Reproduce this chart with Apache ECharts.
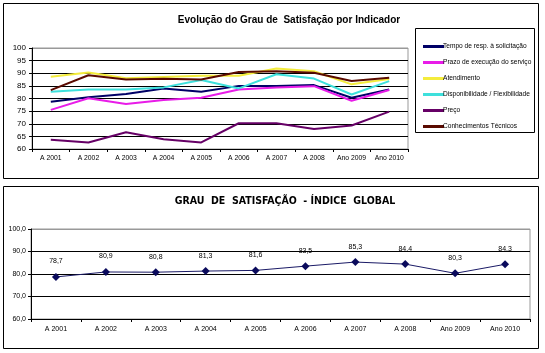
<!DOCTYPE html>
<html>
<head>
<meta charset="utf-8">
<script src="https://cdn.jsdelivr.net/npm/echarts@6/dist/echarts.min.js"></script>
<style>
  html, body { margin: 0; padding: 0; background: #fff; }
  #chart { width: 545px; height: 353px; }
</style>
</head>
<body>
<div id="chart"></div>
<script>
// categorias (anos)
const anos = ['A 2001', 'A 2002', 'A 2003', 'A 2004', 'A 2005', 'A 2006', 'A 2007', 'A 2008', 'Ano 2009', 'Ano 2010']

// indicadores - grafico de cima
const tempoResp = [78.7, 80.5, 81.8, 84.0, 82.7, 85.0, 85.0, 85.3, 80.3, 83.6]
const prazoExec = [75.5, 80.1, 77.8, 79.4, 80.3, 83.6, 84.4, 84.9, 79.1, 83.4]
const atendimento = [88.6, 90.3, 88.0, 88.5, 89.0, 89.0, 91.9, 90.8, 85.6, 87.7]
const disponib = [82.7, 83.6, 83.6, 84.4, 87.3, 84.0, 89.6, 87.9, 81.6, 86.9]
const preco = [63.7, 62.6, 66.6, 63.9, 62.6, 70.2, 70.2, 67.9, 69.3, 74.8]
const conhecimentos = [83.3, 89.2, 87.5, 87.8, 87.5, 90.5, 90.8, 90.2, 86.9, 88.2]

// indice global - grafico de baixo
const indiceGlobal = [78.7, 80.9, 80.8, 81.3, 81.6, 83.5, 85.3, 84.4, 80.3, 84.3]

const indicadores = [
  { name: 'Tempo de resp. à solicitação', data: tempoResp, color: '#000066' },
  { name: 'Prazo de execução do serviço', data: prazoExec, color: '#e81ce8' },
  { name: 'Atendimento', data: atendimento, color: '#f4ec3c' },
  { name: 'Disponibilidade / Flexibilidade', data: disponib, color: '#3ee0dc' },
  { name: 'Preço', data: preco, color: '#660066' },
  { name: 'Conhecimentos Técnicos', data: conhecimentos, color: '#5a0a00' }
]

const fonte = '"Liberation Sans", Arial, sans-serif'
const chart = echarts.init(document.getElementById('chart'))

const gridTop = ['#000', '#000', '#000', '#000', '#000', '#000', '#000', '#000', '#999']
const gridBot = ['#000', '#000', '#000', '#000', '#999']

const option = {
  animation: false,
  backgroundColor: '#fff',
  textStyle: { fontFamily: fonte },
  graphic: [
    { type: 'rect', shape: { x: 3.5, y: 3.5, width: 535, height: 175 }, style: { fill: 'none', stroke: '#000', lineWidth: 1 }, z: 0 },
    { type: 'rect', shape: { x: 3.5, y: 186.5, width: 535, height: 162 }, style: { fill: 'none', stroke: '#000', lineWidth: 1 }, z: 0 },
    { type: 'rect', shape: { x: 415.5, y: 28.5, width: 119, height: 104 }, style: { fill: 'none', stroke: '#000', lineWidth: 1 }, z: 0 }
  ],
  title: [
    {
      text: 'Evolução do Grau de  Satisfação por Indicador',
      left: 284, top: 10, textAlign: 'center',
      textStyle: { fontSize: 10, fontWeight: 'bold', color: '#000', fontFamily: fonte }
    },
    {
      text: 'GRAU  DE  SATISFAÇÃO  - ÍNDICE  GLOBAL',
      left: 280, top: 191, textAlign: 'center',
      textStyle: { fontSize: 10.5, fontWeight: 'bold', color: '#000', fontFamily: '"DejaVu Sans Condensed", "DejaVu Sans", sans-serif' }
    }
  ],
  legend: {
    data: indicadores.map(s => s.name),
    orient: 'vertical',
    left: 418, top: 38,
    itemWidth: 21, itemHeight: 3, itemGap: 9,
    icon: 'rect',
    textStyle: { fontSize: 6.6, color: '#000', padding: [0, 0, 0, -6] }
  },
  grid: [
    { left: 32, top: 48, width: 376, height: 101, show: true, borderColor: '#999', borderWidth: 1 },
    { left: 31, top: 229, width: 499, height: 90, show: true, borderColor: '#999', borderWidth: 1 }
  ],
  xAxis: [
    {
      gridIndex: 0, type: 'category', data: anos, boundaryGap: true,
      axisLine: { lineStyle: { color: '#000' } },
      axisTick: { show: true, length: 3, lineStyle: { color: '#000' } },
      axisLabel: { fontSize: 6.8, color: '#000', margin: 6, interval: 0, hideOverlap: false }
    },
    {
      gridIndex: 1, type: 'category', data: anos, boundaryGap: true,
      axisLine: { lineStyle: { color: '#000' } },
      axisTick: { show: true, length: 3, lineStyle: { color: '#000' } },
      axisLabel: { fontSize: 7, color: '#000', margin: 7, interval: 0 }
    }
  ],
  yAxis: [
    {
      gridIndex: 0, type: 'value', min: 60, max: 100, interval: 5,
      axisLine: { show: true, lineStyle: { color: '#000' } },
      axisTick: { show: true, length: 3, lineStyle: { color: '#000' } },
      axisLabel: { fontSize: 8, color: '#000', margin: 6 },
      splitLine: { lineStyle: { color: gridTop, width: 1 } }
    },
    {
      gridIndex: 1, type: 'value', min: 60, max: 100, interval: 10,
      axisLine: { show: true, lineStyle: { color: '#000' } },
      axisTick: { show: true, length: 3, lineStyle: { color: '#000' } },
      axisLabel: { fontSize: 7, color: '#000', margin: 5, formatter: v => v.toFixed(1).replace('.', ',') },
      splitLine: { lineStyle: { color: gridBot, width: 1 } }
    }
  ],
  series: [
    ...indicadores.map(s => ({
      name: s.name, type: 'line', xAxisIndex: 0, yAxisIndex: 0,
      data: s.data, symbol: 'none',
      lineStyle: { color: s.color, width: 2 },
      itemStyle: { color: s.color }
    })),
    {
      name: 'Índice Global', type: 'line', xAxisIndex: 1, yAxisIndex: 1,
      data: indiceGlobal, symbol: 'diamond', symbolSize: 8,
      lineStyle: { color: '#1a1a66', width: 1 },
      itemStyle: { color: '#0a0a5c' },
      label: {
        show: true, position: 'top', distance: 8, fontSize: 7, color: '#000',
        formatter: p => p.value.toFixed(1).replace('.', ',')
      }
    }
  ]
}

chart.setOption(option)
</script>
</body>
</html>
